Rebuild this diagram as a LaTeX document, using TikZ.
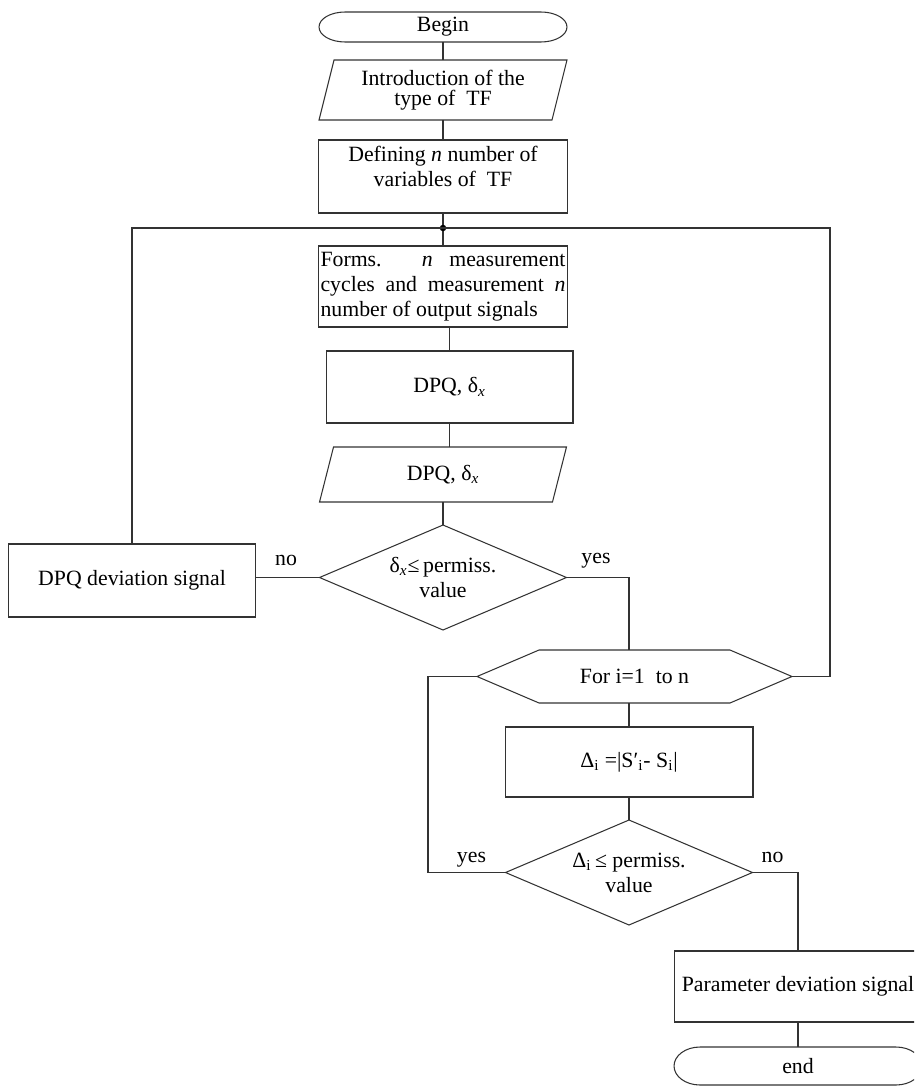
\documentclass[tikz,border=0pt]{standalone}
\usepackage{fontspec}
\setmainfont{Liberation Serif}
\usetikzlibrary{calc}
\begin{document}
\begin{tikzpicture}[x=0.02cm,y=-0.02cm,
  every node/.style={font=\fontsize{12.4}{14.2}\selectfont, inner sep=0pt, outer sep=0pt, align=center},
  ln/.style={line width=0.6pt, draw=black!80},
  rectbox/.style={draw=black!80, line width=0.6pt, minimum width=4.96cm},
  lab/.style={anchor=base},
]
\useasboundingbox (0,0) rectangle (914,1088);
\clip (0,0) rectangle (914,1088);

% Begin terminal
\node[minimum width=4.96cm, minimum height=0.6cm] (begin) at (443,27) {Begin};
\draw[ln] ([xshift=0.52cm]begin.north west) -- ([xshift=-0.52cm]begin.north east)
  arc[start angle=90,end angle=-90,x radius=0.52cm,y radius=0.3cm]
  -- ([xshift=0.52cm]begin.south west)
  arc[start angle=270,end angle=90,x radius=0.52cm,y radius=0.3cm] -- cycle;

% Input parallelogram
\node[minimum width=4.96cm, minimum height=1.2cm, font=\fontsize{12.4}{11.5}\selectfont] (p1) at (443,90) {Introduction of the\\type of\ \ TF};
\draw[ln] ([xshift=0.3cm]p1.north west) -- (p1.north east) -- ([xshift=-0.3cm]p1.south east) -- (p1.south west) -- cycle;

% Defining
\node[rectbox, minimum width=4.98cm, minimum height=1.46cm] (def) at (443,176.5) {Defining \textit{n} number of\\variables of\ \ TF\\[-2.6pt]};

% junction
\coordinate (dot) at (443,228);
\coordinate (rc) at (830,228);
\coordinate (lp) at (428,873);

% Forms
\node[rectbox, minimum width=4.98cm, minimum height=1.62cm, text width=4.9cm, align=justify,
  execute at begin node={\tolerance=10000\hbadness=10000\hyphenpenalty=10000}] (forms) at (443,286.5)
  {Forms. \textit{n} measurement\linebreak cycles and measurement \textit{n}\linebreak number of output signals};

% DPQ rect
\node[rectbox, minimum width=4.94cm, minimum height=1.44cm] (dpq) at (449.5,387) {DPQ, δ\textsubscript{\textit{x}}};

% DPQ parallelogram
\node[minimum width=4.94cm, minimum height=1.1cm] (p2) at (443,474.5) {DPQ, δ\textsubscript{\textit{x}}};
\draw[ln] ([xshift=0.28cm]p2.north west) -- (p2.north east) -- ([xshift=-0.28cm]p2.south east) -- (p2.south west) -- cycle;

% Decision 1
\node[minimum width=4.94cm, minimum height=2.1cm] (d1) at (443,577.5) {δ\textsubscript{\textit{x}}≤\,permiss.\\value};
\draw[ln] (d1.north) -- (d1.east) -- (d1.south) -- (d1.west) -- cycle;

% DPQ deviation signal
\node[rectbox, minimum width=4.94cm, minimum height=1.46cm] (dev) at (132,580.5) {DPQ deviation signal};

% Loop hexagon
\node[minimum width=6.3cm, minimum height=1.06cm] (hex) at (634.5,676.5) {For i=1\ \ to n};
\draw[ln] (hex.west) -- ([xshift=1.24cm]hex.north west) -- ([xshift=-1.24cm]hex.north east) -- (hex.east)
  -- ([xshift=-1.24cm]hex.south east) -- ([xshift=1.24cm]hex.south west) -- cycle;

% Delta rect
\node[rectbox, minimum width=4.96cm, minimum height=1.4cm] (delta) at (629,762) {Δ\textsubscript{i} =|S′\textsubscript{i}- S\textsubscript{i}|};

% Decision 2
\node[minimum width=4.94cm, minimum height=2.1cm] (d2) at (629,872.5) {Δ\textsubscript{i}\,≤ permiss.\\value};
\draw[ln] (d2.north) -- (d2.east) -- (d2.south) -- (d2.west) -- cycle;

% Parameter deviation signal
\node[rectbox, minimum height=1.42cm] (param) at (798,986.5) {Parameter deviation signal};

% End terminal
\node[minimum width=4.96cm, minimum height=0.76cm] (stop) at (798,1066) {end};
\draw[ln] ([xshift=0.52cm]stop.north west) -- ([xshift=-0.52cm]stop.north east)
  arc[start angle=90,end angle=-90,x radius=0.52cm,y radius=0.38cm]
  -- ([xshift=0.52cm]stop.south west)
  arc[start angle=270,end angle=90,x radius=0.52cm,y radius=0.38cm] -- cycle;

% connectors
\draw[ln] (begin) -- (p1);
\draw[ln] (p1) -- (def);
\draw[ln] (def) -- (dot) -- (forms);
\fill[black] (dot) circle (0.065cm);
\draw[ln] (dpq.north |- forms.south) -- (dpq.north);
\draw[ln] (dpq.south) -- (dpq.south |- p2.north);
\draw[ln] (p2) -- (d1);
\draw[ln] (d1.west) -- (d1.west -| dev.east);
\draw[ln] (dot) -| (dev.north);
\draw[ln] (d1.east) -| (hex.north -| delta.north);
\draw[ln] (hex.south -| delta.north) -- (delta.north);
\draw[ln] (delta) -- (d2);
\draw[ln] (d2.east) -| (param.north);
\draw[ln] (param) -- (stop);
\draw[ln] (d2.west) -- (d2.west -| lp) |- (hex.west);
\draw[ln] (hex.east) -| (rc) -- (dot);

% labels
\node[lab] (no1) at (286,565) {no};
\node[lab] (yes1) at (596,563) {yes};
\node[lab] (yes2) at (471.5,862) {yes};
\node[lab] (no2) at (772.5,862) {no};
\end{tikzpicture}
\end{document}
